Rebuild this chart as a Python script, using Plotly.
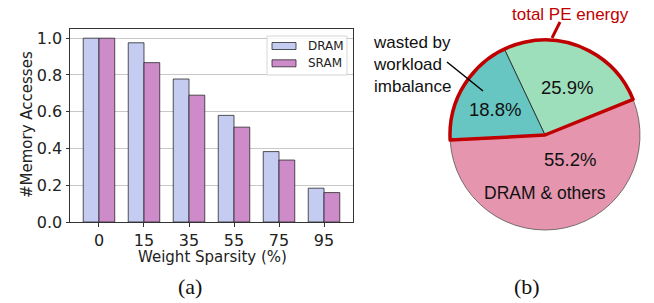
import plotly.graph_objects as go

# ---------------- data ----------------
sparsity = ["0", "15", "35", "55", "75", "95"]
dram = [1.0, 0.975, 0.778, 0.58, 0.383, 0.184]
sram = [1.0, 0.867, 0.69, 0.516, 0.337, 0.16]
y_ticks = [0.0, 0.2, 0.4, 0.6, 0.8, 1.0]

pie_labels = ["PE useful", "wasted by workload imbalance", "DRAM & others"]
pie_values = [25.9, 18.8, 55.2]
pie_colors = ["#9ddebb", "#67c6c1", "#e596ae"]

W, H = 654, 303       # reference picture size (layout designed in these pixel units)
FIG_H = 313           # rendered figure height
RED = "#c00000"
SANS = "DejaVu Sans"
ARIAL = "Liberation Sans, Arial"
SERIF = "Liberation Serif, Times New Roman"


def px(x):
    return x / W


def py(y):
    return 1 - y / H


fig = go.Figure()

fig.add_trace(go.Bar(
    x=sparsity, y=dram, name="DRAM",
    marker=dict(color="#c4ccf2", line=dict(color="rgba(30,30,30,0.75)", width=1)),
    showlegend=False, hoverinfo="skip",
))
fig.add_trace(go.Bar(
    x=sparsity, y=sram, name="SRAM",
    marker=dict(color="#ce8bc9", line=dict(color="rgba(30,30,30,0.75)", width=1)),
    showlegend=False, hoverinfo="skip",
))

# pie
pie_dom_x = [px(545 - 95), px(545 + 95)]
pie_dom_y = [py(135 + 95), py(135 - 95)]
total = sum(pie_values)
boundary = 68  # clockwise-from-top angle where the DRAM slice meets the PE slices
rot1 = boundary - 360 * pie_values[0] / total
fig.add_trace(go.Pie(
    labels=pie_labels, values=pie_values, sort=False, direction="counterclockwise",
    rotation=rot1, textinfo="none", hoverinfo="skip", showlegend=False,
    marker=dict(colors=pie_colors, line=dict(color=["#222", "#222", "#555"], width=[0.8, 0.8, 0.8])),
    domain=dict(x=pie_dom_x, y=pie_dom_y),
))
# outline of total PE energy (useful + wasted)
pe_total = pie_values[0] + pie_values[1]
fig.add_trace(go.Pie(
    labels=["rest", "total PE energy"], values=[pie_values[2], pe_total], sort=False,
    direction="counterclockwise", rotation=boundary, textinfo="none", hoverinfo="skip",
    showlegend=False,
    marker=dict(colors=["rgba(0,0,0,0)", "rgba(0,0,0,0)"],
                line=dict(color=["rgba(0,0,0,0)", RED], width=[0, 3.5])),
    domain=dict(x=pie_dom_x, y=pie_dom_y),
))

fig.update_layout(
    width=W, height=FIG_H,
    margin=dict(l=0, r=0, t=0, b=0),
    paper_bgcolor="white", plot_bgcolor="white",
    barmode="group", bargap=0.3, bargroupgap=0,
    xaxis=dict(
        domain=[px(70), px(353)], range=[-0.644, 5.644], type="category",
        showline=True, mirror=True, linecolor="#333", linewidth=1,
        ticks="outside", ticklen=3.5, tickcolor="#333", showgrid=False,
        tickfont=dict(family=SANS, size=16, color="#222"),
    ),
    yaxis=dict(
        domain=[py(222), py(29)], range=[0, 1.05],
        tickvals=y_ticks, tickformat=".1f",
        showline=True, mirror=True, linecolor="#333", linewidth=1,
        ticks="outside", ticklen=3.5, tickcolor="#333",
        showgrid=True, gridcolor="#c8c8c8", gridwidth=1, zeroline=False,
        tickfont=dict(family=SANS, size=16, color="#222"),
    ),
)

shapes = []
annotations = []

# axis titles
annotations.append(dict(text="Weight Sparsity (%)", xref="paper", yref="paper", x=px(212), y=py(257),
                        xanchor="center", yanchor="middle", showarrow=False,
                        font=dict(family=SANS, size=15, color="#222")))
annotations.append(dict(text="#Memory Accesses", xref="paper", yref="paper", x=px(27), y=py(125),
                        xanchor="center", yanchor="middle", showarrow=False, textangle=-90,
                        font=dict(family=SANS, size=15, color="#222")))

# manual legend
shapes.append(dict(type="rect", xref="paper", yref="paper", x0=px(267), x1=px(347), y0=py(75), y1=py(36),
                   line=dict(color="#d6d6d6", width=1), fillcolor="rgba(255,255,255,0.85)", layer="above"))
for i, (nm, col) in enumerate([("DRAM", "#c4ccf2"), ("SRAM", "#ce8bc9")]):
    yc = 46 + i * 17.3
    shapes.append(dict(type="rect", xref="paper", yref="paper", x0=px(272), x1=px(296),
                       y0=py(yc + 3.5), y1=py(yc - 3.5), fillcolor=col,
                       line=dict(color="rgba(30,30,30,0.75)", width=1), layer="above"))
    annotations.append(dict(text=nm, xref="paper", yref="paper", x=px(306), y=py(yc), xanchor="left",
                            yanchor="middle", showarrow=False, font=dict(family=SANS, size=12, color="#222")))

# pie texts
pie_texts = [
    dict(text=f"{pie_values[0]}%", x=px(567), y=py(88)),
    dict(text=f"{pie_values[1]}%", x=px(495), y=py(109)),
    dict(text=f"{pie_values[2]}%", x=px(570), y=py(159)),
    dict(text="DRAM & others", x=px(545), y=py(193), size=17.5),
]
for a in pie_texts:
    a.update(xref="paper", yref="paper", showarrow=False, xanchor="center", yanchor="middle",
             font=dict(family=ARIAL, size=a.pop("size", 18.5), color="#111"))
annotations += pie_texts

annotations.append(dict(text="wasted by<br>workload<br>imbalance", xref="paper", yref="paper",
                        x=px(371), y=py(64), xanchor="left", yanchor="middle", align="left",
                        showarrow=False, font=dict(family=ARIAL, size=17, color="#111")))
annotations.append(dict(text="total PE energy", xref="paper", yref="paper",
                        x=px(570), y=py(14), xanchor="center", yanchor="middle",
                        showarrow=False, font=dict(family=ARIAL, size=17, color=RED)))
shapes.append(dict(type="line", xref="paper", yref="paper", x0=px(447), y0=py(62), x1=px(483), y1=py(91),
                   line=dict(color="black", width=1.5)))
shapes.append(dict(type="line", xref="paper", yref="paper", x0=px(552), y0=py(38), x1=px(560), y1=py(22),
                   line=dict(color=RED, width=3)))

# subfigure labels
annotations.append(dict(text="(a)", xref="paper", yref="paper", x=px(190), y=py(286), showarrow=False,
                        xanchor="center", yanchor="middle", font=dict(family=SERIF, size=22, color="#111")))
annotations.append(dict(text="(b)", xref="paper", yref="paper", x=px(527), y=py(286), showarrow=False,
                        xanchor="center", yanchor="middle", font=dict(family=SERIF, size=22, color="#111")))

fig.update_layout(shapes=shapes, annotations=annotations)
fig.write_html("out.html", config={"displayModeBar": False},
               post_script="document.body.style.margin='0';document.body.style.padding='0';")
